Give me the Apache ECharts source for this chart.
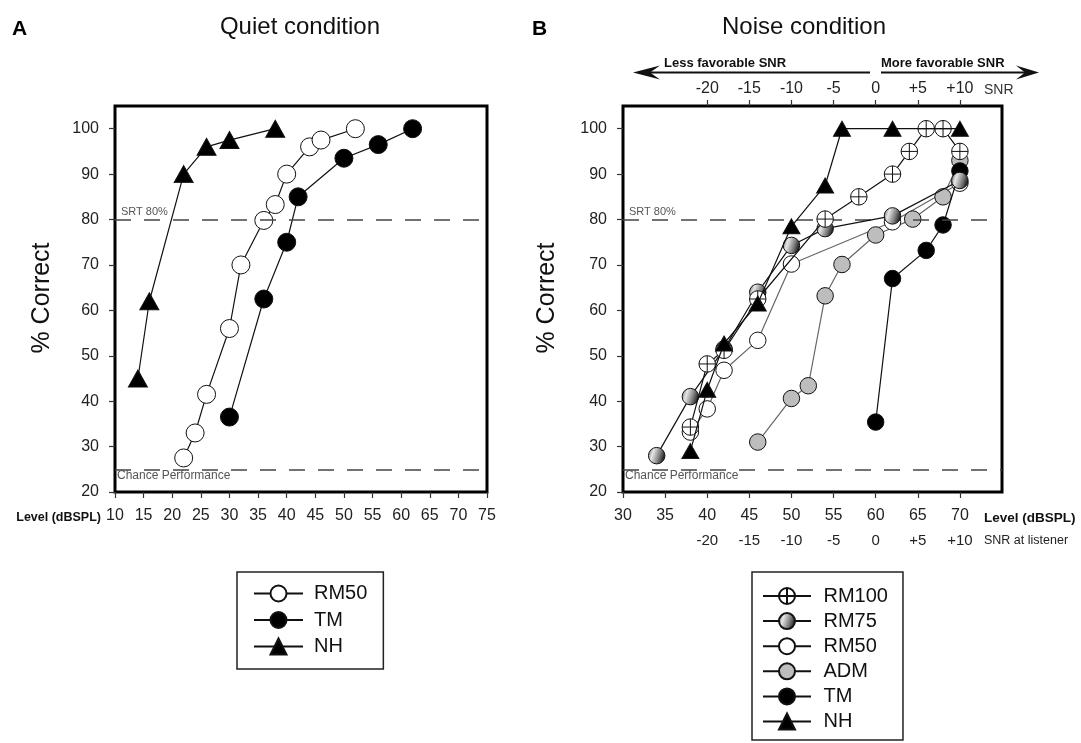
<!DOCTYPE html>
<html><head><meta charset="utf-8">
<script src="https://cdn.jsdelivr.net/npm/echarts@6/dist/echarts.min.js"></script>
<style>html,body{margin:0;padding:0;background:#fff}#c{width:1081px;height:743px}</style>
</head><body><div id="c"></div>
<script>
// ---- tick labels ----
const levelTicksQuiet = [10,15,20,25,30,35,40,45,50,55,60,65,70,75];
const levelTicksNoise = [30,35,40,45,50,55,60,65,70];
const pctTicks = [20,30,40,50,60,70,80,90,100];
const snrTicks = [-20,-15,-10,-5,0,5,10];
const refLines = { srt: 80, chance: 25 };

// ---- Panel A: quiet condition  [level dBSPL, % correct] ----
const quietRM50 = [[22,27.5],[24,33],[26,41.5],[30,56],[32,70],[36,79.8],[38,83.3],[40,90],[44,96],[46,97.5],[52,100]];
const quietTM   = [[30,36.5],[36,62.5],[40,75],[42,85],[50,93.5],[56,96.5],[62,100]];
const quietNH   = [[14,45],[16,62],[22,90],[26,96],[30,97.5],[38,100]];

// ---- Panel B: noise condition  [level dBSPL, % correct] ----
const noiseRM100 = [[38,34.3],[40,48.2],[42,51.2],[46,62.5],[54,80.1],[58,85],[62,90],[64,95],[66,100],[68,100],[70,95]];
const noiseRM75  = [[34,28],[38,41],[42,51.5],[46,64],[50,74.3],[54,78],[62,80.8],[70,88.6]];
const noiseRM50  = [[38,33.2],[40,38.3],[42,46.8],[46,53.4],[50,70.2],[62,79.5],[70,88]];
const noiseADM   = [[46,31],[50,40.6],[52,43.4],[54,63.2],[56,70.1],[60,76.6],[64.4,80.1],[68,85],[70,93]];
const noiseTM    = [[60,35.4],[62,67],[66,73.2],[68,78.8],[70,90.7]];
const noiseNH    = [[38,29],[40,42.5],[42,52.7],[46,61.5],[50,78.5],[54,87.5],[56,100],[62,100],[70,100]];

const FONT = 'Liberation Sans, Arial, sans-serif';
const rm100Path = 'path://M20,10A10,10,0,1,1,0,10A10,10,0,1,1,20,10ZM10,0L10,20M0,10L20,10';
const rm75Fill = new echarts.graphic.LinearGradient(0,0,1,0.3,[
  {offset:0,color:'#5a5a5a'},{offset:0.35,color:'#e6e6e6'},{offset:0.75,color:'#7a7a7a'},{offset:1,color:'#262626'}]);

function ser(name, data, gi, symbol, size, fill, lineColor, z) {
  return {
    name, type:'line', data, xAxisIndex: gi, yAxisIndex: gi,
    symbol, symbolSize: size, showSymbol: true, z: z || 2,
    itemStyle:{color: fill, borderColor:'#111', borderWidth:1},
    lineStyle:{color: lineColor, width:1.2},
    emphasis:{disabled:true}, animation:false, silent:true
  };
}
function refMark() {
  return {
    silent:true, symbol:'none', animation:false,
    lineStyle:{type:[16,13], color:'#444', width:1.5},
    data:[
      {yAxis: refLines.srt, label:{formatter:'SRT 80%', position:'insideStartTop', distance:[6,2], color:'#555', fontSize:11, fontFamily:FONT}},
      {yAxis: refLines.chance, label:{formatter:'Chance Performance', position:'insideStartBottom', distance:[2,0], color:'#555', fontSize:12, fontFamily:FONT}}
    ]
  };
}
const plusFmt = v => v > 0 ? '+' + v : String(v);

const s1 = ser('RM50', quietRM50, 0, 'circle', 18, '#fff', '#111', 3);
s1.markLine = refMark();
const s4 = ser('RM50', noiseRM50, 1, 'circle', 16.5, '#fff', '#666', 3);
s4.markLine = refMark();

const series = [
  s1,
  ser('TM', quietTM, 0, 'circle', 18, '#000', '#111', 3),
  ser('NH', quietNH, 0, 'triangle', [19,17], '#000', '#111', 4),
  s4,
  ser('ADM', noiseADM, 1, 'circle', 16.5, '#bdbdbd', '#666', 3),
  ser('TM', noiseTM, 1, 'circle', 16.5, '#000', '#111', 4),
  ser('RM75', noiseRM75, 1, 'circle', 16.5, rm75Fill, '#111', 5),
  ser('RM100', noiseRM100, 1, rm100Path, 16.5, '#fff', '#111', 6),
  ser('NH', noiseNH, 1, 'triangle', [17,15], '#000', '#111', 7)
];

function axisX(gi, min, max, ticks, extra) {
  return Object.assign({
    type:'value', gridIndex: gi, min, max, position:'bottom',
    axisLine:{show:false, onZero:false}, splitLine:{show:false},
    axisTick:{show:true, customValues: ticks, length:6, lineStyle:{color:'#333', width:1.2}},
    axisLabel:{customValues: ticks, fontSize:16, color:'#222', margin:16, fontFamily:FONT}
  }, extra || {});
}
function axisY(gi) {
  return {
    type:'value', gridIndex: gi, min:20, max:105, position:'left',
    axisLine:{show:false, onZero:false}, splitLine:{show:false},
    axisTick:{show:true, customValues: pctTicks, length:6, lineStyle:{color:'#333', width:1.2}},
    axisLabel:{customValues: pctTicks, fontSize:16, color:'#222', margin:16, fontFamily:FONT}
  };
}

const arrowY = 72.5;
const option = {
  backgroundColor:'#fff',
  animation:false,
  textStyle:{fontFamily:FONT},
  grid:[
    {left:115, top:106, width:372, height:386, show:true, borderColor:'#000', borderWidth:3, backgroundColor:'transparent'},
    {left:623, top:106, width:379, height:386, show:true, borderColor:'#000', borderWidth:3, backgroundColor:'transparent'}
  ],
  xAxis:[
    axisX(0, 10, 75, levelTicksQuiet),
    axisX(1, 30, 75, levelTicksNoise),
    axisX(1, -30, 15, snrTicks, {position:'top',
      axisTick:{show:true, customValues: snrTicks, length:6, lineStyle:{color:'#333', width:1.2}},
      axisLabel:{customValues: snrTicks, formatter: plusFmt, fontSize:16, color:'#222', margin:9, fontFamily:FONT}}),
    axisX(1, -30, 15, snrTicks, {position:'bottom', offset:25,
      axisTick:{show:false},
      axisLabel:{customValues: snrTicks, formatter: plusFmt, fontSize:15, color:'#222', margin:16, fontFamily:FONT}})
  ],
  yAxis:[axisY(0), axisY(1)],
  legend:[
    {left:237, top:572, orient:'vertical', itemWidth:49, itemHeight:20, itemGap:6.5,
     padding:[11.5,16,12.5,16], borderColor:'#222', borderWidth:1.5, selectedMode:false,
     lineStyle:{color:'#111'},
     data:['RM50','TM','NH'],
     textStyle:{fontSize:20, color:'#111', fontFamily:FONT, padding:[0,0,0,6]}},
    {left:752, top:572, orient:'vertical', itemWidth:48, itemHeight:20, itemGap:5.1,
     padding:[14,15,8.5,10], borderColor:'#222', borderWidth:1.5, selectedMode:false,
     lineStyle:{color:'#111'},
     data:['RM100','RM75','RM50','ADM','TM','NH'],
     textStyle:{fontSize:20, color:'#111', fontFamily:FONT, padding:[0,0,0,7.5]}}
  ],
  graphic:[
    {type:'text', x:12, y:19, style:{text:'A', font:'bold 21px '+FONT, fill:'#000'}},
    {type:'text', x:532, y:19, style:{text:'B', font:'bold 21px '+FONT, fill:'#000'}},
    {type:'text', x:300, y:27, style:{text:'Quiet condition', font:'24px '+FONT, fill:'#111', textAlign:'center', textVerticalAlign:'middle'}},
    {type:'text', x:804, y:27, style:{text:'Noise condition', font:'24px '+FONT, fill:'#111', textAlign:'center', textVerticalAlign:'middle'}},
    {type:'text', x:42, y:298, rotation:Math.PI/2, style:{text:'% Correct', font:'25px '+FONT, fill:'#111', textAlign:'center', textVerticalAlign:'middle'}},
    {type:'text', x:547, y:298, rotation:Math.PI/2, style:{text:'% Correct', font:'25px '+FONT, fill:'#111', textAlign:'center', textVerticalAlign:'middle'}},
    {type:'text', x:101, y:518, style:{text:'Level (dBSPL)', font:'bold 12.5px '+FONT, fill:'#111', textAlign:'right', textVerticalAlign:'middle'}},
    {type:'text', x:984, y:518, style:{text:'Level (dBSPL)', font:'bold 13.5px '+FONT, fill:'#111', textAlign:'left', textVerticalAlign:'middle'}},
    {type:'text', x:984, y:541, style:{text:'SNR at listener', font:'12.5px '+FONT, fill:'#222', textAlign:'left', textVerticalAlign:'middle'}},
    {type:'text', x:984, y:90, style:{text:'SNR', font:'14px '+FONT, fill:'#333', textAlign:'left', textVerticalAlign:'middle'}},
    {type:'text', x:664, y:63, style:{text:'Less favorable SNR', font:'bold 13px '+FONT, fill:'#111', textAlign:'left', textVerticalAlign:'middle'}},
    {type:'text', x:881, y:63, style:{text:'More favorable SNR', font:'bold 13px '+FONT, fill:'#111', textAlign:'left', textVerticalAlign:'middle'}},
    {type:'line', shape:{x1:870, y1:arrowY, x2:640, y2:arrowY}, style:{stroke:'#111', lineWidth:2}},
    {type:'polygon', shape:{points:[[633,arrowY],[660,arrowY-7],[650,arrowY],[660,arrowY+7]]}, style:{fill:'#111'}},
    {type:'line', shape:{x1:881, y1:arrowY, x2:1032, y2:arrowY}, style:{stroke:'#111', lineWidth:2}},
    {type:'polygon', shape:{points:[[1039,arrowY],[1016,arrowY-7],[1025,arrowY],[1016,arrowY+7]]}, style:{fill:'#111'}}
  ],
  series
};
const chart = echarts.init(document.getElementById('c'), null, {renderer:'canvas'});
chart.setOption(option);
</script>
</body></html>
